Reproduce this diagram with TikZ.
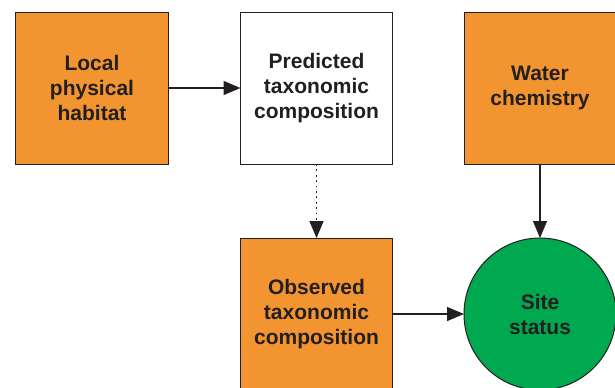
\documentclass[tikz,border=0pt]{standalone}
\usepackage{fontspec}
\setmainfont{Liberation Sans}
\usetikzlibrary{arrows.meta}
\definecolor{boxorange}{HTML}{F29430}
\definecolor{sitegreen}{HTML}{00A850}
\definecolor{ink}{HTML}{231F20}
\begin{document}
\begin{tikzpicture}[x=1bp,y=-1bp,
  boxstyle/.style={draw=ink, line width=1bp, minimum width=152bp, minimum height=152bp, inner sep=0pt, outer sep=0pt,
    align=center, text=ink, font=\fontsize{21bp}{25bp}\selectfont\bfseries},
  orangebox/.style={boxstyle, fill=boxorange},
  whitebox/.style={boxstyle, fill=white},
  circlestyle/.style={boxstyle, circle, fill=sitegreen, minimum size=152bp},
  link/.style={draw=ink, line width=1.3bp, -{Triangle[length=17bp,width=14bp]}}
]
\useasboundingbox (0,0) rectangle (615,387);
\begin{scope}
\clip (0,0) rectangle (615,387);
\node[orangebox] (local) at (92,88) {Local\\physical\\habitat};
\node[whitebox] (pred) at (316.5,88) {Predicted\\taxonomic\\composition};
\node[orangebox] (water) at (540,88) {Water\\chemistry};
\node[orangebox] (obs) at (316.5,314) {Observed\\taxonomic\\composition};
\node[circlestyle] (site) at (540,314) {Site\\status};
\draw[link] (local) -- (pred);
\draw[link, line width=1.6bp, dash pattern=on 1.8bp off 3.6bp] (pred) -- (obs);
\draw[link] (water) -- (site);
\draw[link] (obs) -- (site);
\end{scope}
\end{tikzpicture}
\end{document}
